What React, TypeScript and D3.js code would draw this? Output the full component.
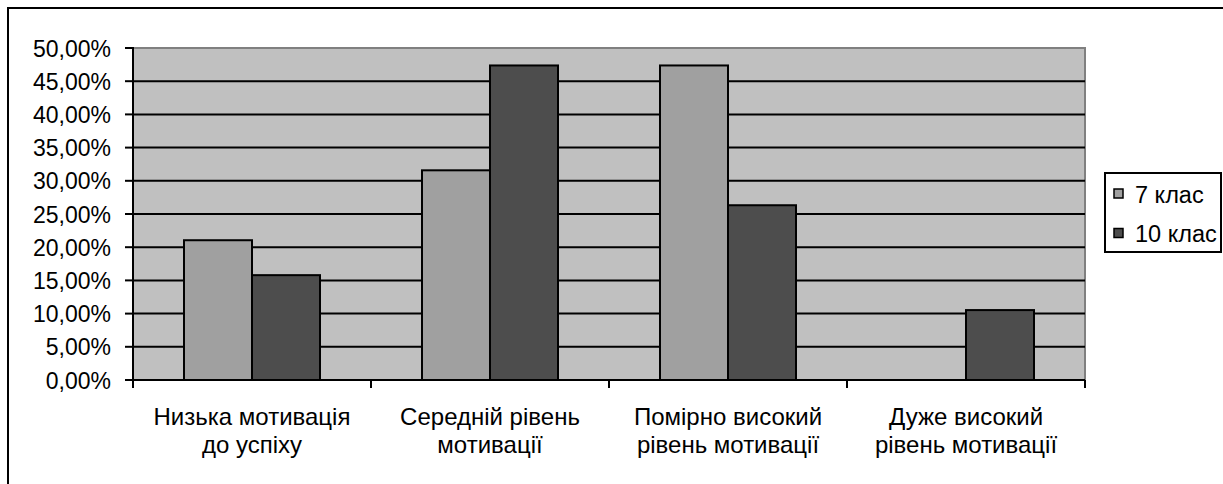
import * as React from 'react';
import * as d3 from 'd3';

const categories: string[][] = [
	['Низька мотивація', 'до успіху'],
	['Середній рівень', 'мотивації'],
	['Помірно високий', 'рівень мотивації'],
	['Дуже високий', 'рівень мотивації']
];
const seriesNames: string[] = ['7 клас', '10 клас'];
const grade7: number[] = [0.2105, 0.3158, 0.4737, 0];
const grade10: number[] = [0.1579, 0.4737, 0.2632, 0.1053];
const yTicks: number[] = [0, 0.05, 0.1, 0.15, 0.2, 0.25, 0.3, 0.35, 0.4, 0.45, 0.5];

const colors = ['#a0a0a0', '#4d4d4d'];
const FONT = '"Liberation Sans", Arial, sans-serif';

export default function App() {
	const ref = React.useRef<SVGSVGElement>(null);

	React.useEffect(() => {
		const svg = d3.select(ref.current);
		svg.selectAll('*').remove();

		const left = 133;
		const right = 1085;
		const top = 48;
		const bottom = 380;

		const x0 = d3
			.scaleBand<number>()
			.domain(d3.range(categories.length))
			.range([left, right])
			.paddingInner(102 / 238)
			.paddingOuter(51 / 238);
		const x1 = d3.scaleBand<number>().domain([0, 1]).range([0, x0.bandwidth()]);
		const y = d3.scaleLinear().domain([0, 0.5]).range([bottom, top]);
		const step = x0.step();

		// outer chart border (cut off at right/bottom)
		svg.append('rect')
			.attr('x', 8)
			.attr('y', 8)
			.attr('width', 1300)
			.attr('height', 600)
			.attr('fill', '#fff')
			.attr('stroke', '#000')
			.attr('stroke-width', 2);

		// plot area
		svg.append('rect')
			.attr('x', left)
			.attr('y', top)
			.attr('width', right - left)
			.attr('height', bottom - top)
			.attr('fill', '#c0c0c0')
			.attr('stroke', '#808080')
			.attr('stroke-width', 2);

		// gridlines
		svg.append('g')
			.selectAll('line')
			.data(yTicks.filter((t) => t > 0 && t < 0.5))
			.join('line')
			.attr('x1', left)
			.attr('x2', right)
			.attr('y1', (d) => y(d))
			.attr('y2', (d) => y(d))
			.attr('stroke', '#000')
			.attr('stroke-width', 2);

		// bars
		const data = [grade7, grade10];
		data.forEach((vals, s) => {
			svg.append('g')
				.selectAll('rect')
				.data(vals.map((v, i) => ({ v, i })).filter((d) => d.v > 0))
				.join('rect')
				.attr('x', (d) => (x0(d.i) as number) + (x1(s) as number))
				.attr('y', (d) => y(d.v))
				.attr('width', x1.bandwidth())
				.attr('height', (d) => bottom - y(d.v))
				.attr('fill', colors[s])
				.attr('stroke', '#000')
				.attr('stroke-width', 2);
		});

		// axes
		svg.append('line')
			.attr('x1', left)
			.attr('x2', left)
			.attr('y1', top - 1)
			.attr('y2', bottom)
			.attr('stroke', '#000')
			.attr('stroke-width', 2);
		svg.append('line')
			.attr('x1', left)
			.attr('x2', right)
			.attr('y1', bottom)
			.attr('y2', bottom)
			.attr('stroke', '#000')
			.attr('stroke-width', 2);

		const yg = svg.append('g');
		yg.selectAll('line')
			.data(yTicks)
			.join('line')
			.attr('x1', left - 8)
			.attr('x2', left)
			.attr('y1', (d) => y(d))
			.attr('y2', (d) => y(d))
			.attr('stroke', '#000')
			.attr('stroke-width', 2);
		yg.selectAll('text')
			.data(yTicks)
			.join('text')
			.attr('x', 111)
			.attr('y', (d) => y(d) + 8.5)
			.attr('text-anchor', 'end')
			.attr('font-family', FONT)
			.attr('font-size', 23)
			.text((d) => (d * 100).toFixed(2).replace('.', ',') + '%');

		const xg = svg.append('g');
		xg.selectAll('line')
			.data(d3.range(categories.length + 1))
			.join('line')
			.attr('x1', (d) => left + d * step)
			.attr('x2', (d) => left + d * step)
			.attr('y1', bottom)
			.attr('y2', bottom + 8)
			.attr('stroke', '#000')
			.attr('stroke-width', 2);
		categories.forEach((lines, i) => {
			const cx = (x0(i) as number) + x0.bandwidth() / 2;
			lines.forEach((ln, j) => {
				xg.append('text')
					.attr('x', cx)
					.attr('y', 425 + j * 28)
					.attr('text-anchor', 'middle')
					.attr('font-family', FONT)
					.attr('font-size', 24)
					.text(ln);
			});
		});

		// legend
		const lg = svg.append('g');
		lg.append('rect')
			.attr('x', 1105)
			.attr('y', 173)
			.attr('width', 116)
			.attr('height', 79)
			.attr('fill', '#fff')
			.attr('stroke', '#000')
			.attr('stroke-width', 2);
		seriesNames.forEach((name, i) => {
			lg.append('rect')
				.attr('x', 1114)
				.attr('y', 189 + i * 39.5)
				.attr('width', 9)
				.attr('height', 9)
				.attr('fill', colors[i])
				.attr('stroke', '#000')
				.attr('stroke-width', 1.5);
			lg.append('text')
				.attr('x', 1135)
				.attr('y', 202.5 + i * 39.5)
				.attr('font-family', FONT)
				.attr('font-size', 23.5)
				.text(name);
		});
	}, []);

	return (
		<svg
			ref={ref}
			width={1223}
			height={484}
			style={{ position: 'absolute', left: 0, top: 0, display: 'block' }}
		/>
	);
}
